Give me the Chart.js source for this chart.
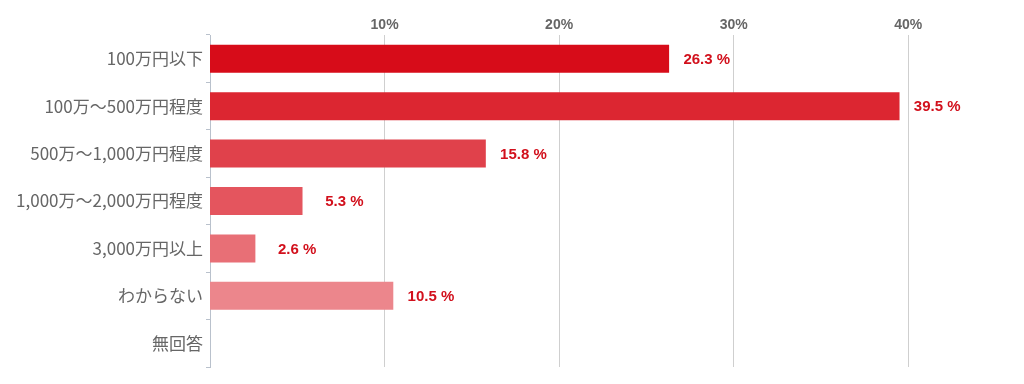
<!DOCTYPE html>
<html lang="ja">
<head>
    <meta charset="UTF-8">
    <title>年収分布</title>
    <script src="https://cdn.jsdelivr.net/npm/chart.js"></script>
    <style>
        body {
            margin: 0;
            background: #fff;
        }
        #wrap {
            width: 1024px;
            height: 384px;
            position: relative;
        }
    </style>
</head>
<body>
    <div id="wrap"><canvas id="myChart"></canvas></div>

    <script>
        const categories = [
            '100万円以下', '100万～500万円程度', '500万～1,000万円程度',
            '1,000万～2,000万円程度', '3,000万円以上', 'わからない', '無回答'
        ];
        const percentages = [26.3, 39.5, 15.8, 5.3, 2.6, 10.5, null];
        const barColors = ['#d70c19', '#dc2631', '#e0414b', '#e4555e', '#e86f76', '#ec868c', '#f0a0a4'];
        const tickSteps = [10, 20, 30, 40];

        // value labels, right aligned a fixed distance after each bar
        const valueLabels = {
            id: 'valueLabels',
            afterDatasetsDraw(chart) {
                const ctx = chart.ctx;
                const meta = chart.getDatasetMeta(0);
                ctx.save();
                ctx.font = 'bold 15px "Liberation Sans", Arial, sans-serif';
                ctx.fillStyle = '#d2101c';
                ctx.textAlign = 'right';
                ctx.textBaseline = 'middle';
                meta.data.forEach((bar, i) => {
                    const v = percentages[i];
                    if (v == null) return;
                    ctx.fillText(v.toFixed(1) + ' %', bar.x + 61, bar.y + 1);
                });
                ctx.restore();
            }
        };

        const ctx = document.getElementById('myChart').getContext('2d');
        new Chart(ctx, {
            type: 'bar',
            data: {
                labels: categories,
                datasets: [{
                    data: percentages,
                    backgroundColor: barColors,
                    borderWidth: 0,
                    barPercentage: 0.59,
                    categoryPercentage: 1
                }]
            },
            options: {
                indexAxis: 'y',
                responsive: true,
                maintainAspectRatio: false,
                animation: false,
                layout: { padding: { left: 0, right: 11, top: 0, bottom: 17 } },
                plugins: {
                    legend: { display: false },
                    tooltip: { enabled: false }
                },
                scales: {
                    x: {
                        position: 'top',
                        min: 0,
                        max: 46,
                        afterFit: s => { s.height = 35; },
                        afterBuildTicks: s => {
                            s.ticks = tickSteps.map(v => ({ value: v }));
                        },
                        ticks: {
                            padding: 1,
                            color: '#666',
                            font: { family: '"Liberation Sans", Arial, sans-serif', size: 14, weight: 'bold' },
                            callback: v => v + '%'
                        },
                        grid: { color: '#cfcfcf', drawTicks: false },
                        border: { display: false }
                    },
                    y: {
                        afterFit: s => { s.width = 210; },
                        ticks: {
                            padding: 3,
                            color: '#666',
                            font: { family: '"Noto Sans CJK JP", sans-serif', size: 17 }
                        },
                        grid: { drawOnChartArea: false, tickLength: 4, color: '#b9c1cc' },
                        border: { color: '#b9c1cc' }
                    }
                }
            },
            plugins: [valueLabels]
        });
    </script>
</body>
</html>
